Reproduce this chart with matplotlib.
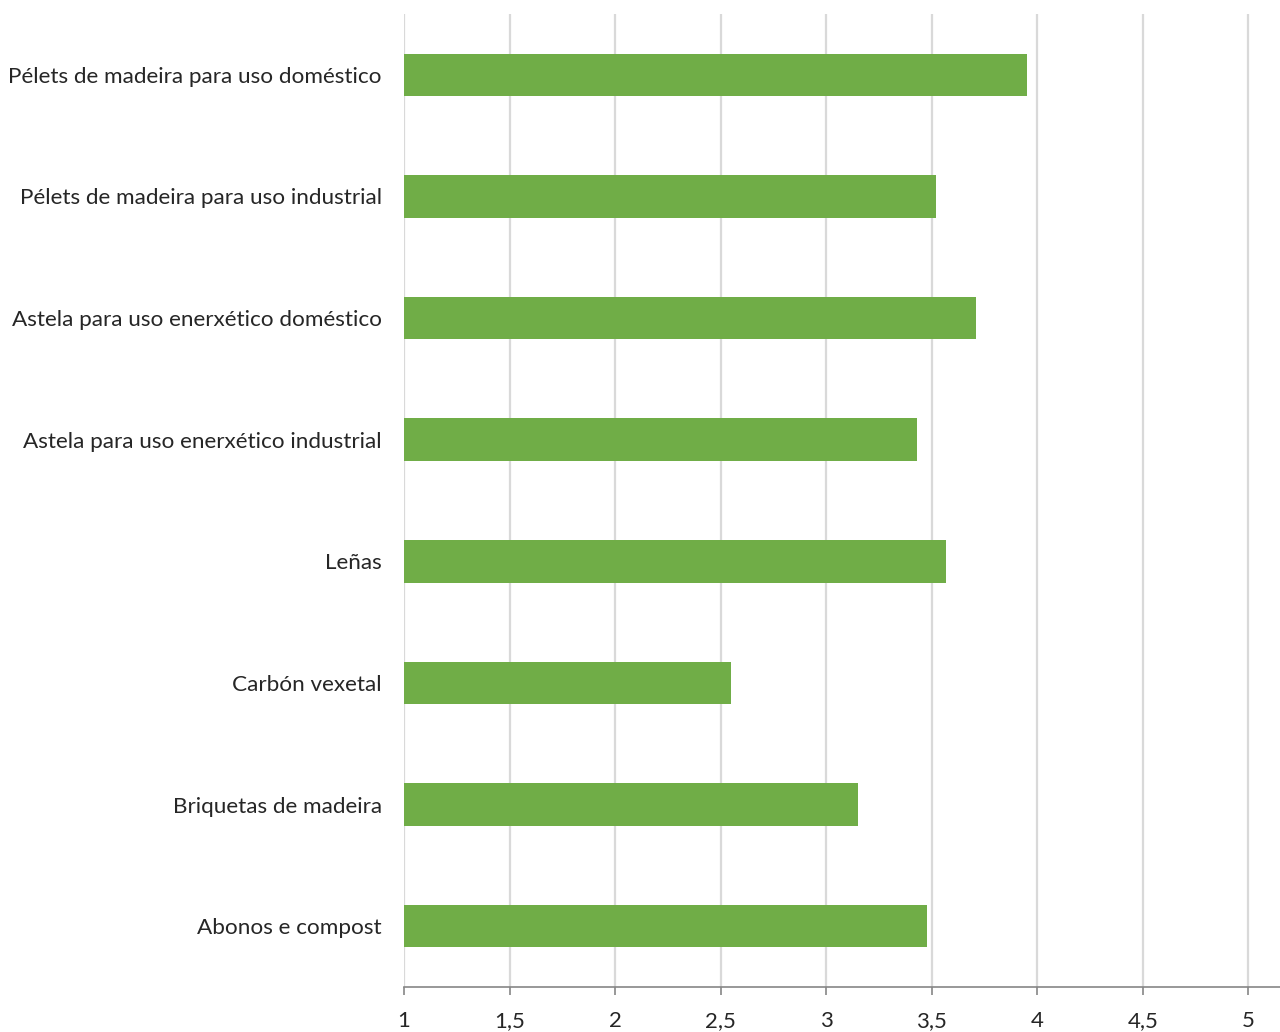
import matplotlib.pyplot as plt
from matplotlib.ticker import FuncFormatter

plt.rcParams['font.family'] = ['Lato', 'DejaVu Sans']

categorias = [
    "Pélets de madeira para uso doméstico",
    "Pélets de madeira para uso industrial",
    "Astela para uso enerxético doméstico",
    "Astela para uso enerxético industrial",
    "Leñas",
    "Carbón vexetal",
    "Briquetas de madeira",
    "Abonos e compost",
]
valores = [3.95, 3.52, 3.71, 3.43, 3.57, 2.55, 3.15, 3.48]
xticks = [1, 1.5, 2, 2.5, 3, 3.5, 4, 4.5, 5]

fig = plt.figure(figsize=(12.8, 10.32), dpi=100)
ax = fig.add_axes([404 / 1280, 45 / 1032, 1 - 404 / 1280, (987 - 14) / 1032])

pos = list(range(len(categorias)))
# barras desde 1 (orixe do eixo)
ax.barh(pos, [v - 1 for v in valores], left=1, height=0.35, color='#70AD47', zorder=3)

ax.set_xlim(1, 5.15)
ax.set_ylim(len(categorias) - 0.5, -0.5)
ax.set_xticks(xticks)
ax.xaxis.set_major_formatter(FuncFormatter(lambda v, p: f"{v:g}".replace('.', ',')))
ax.set_yticks(pos)
ax.set_yticklabels(categorias)

ax.grid(axis='x', color='#D9D9D9', linewidth=1.6, zorder=0)
for s in ['top', 'right', 'left']:
    ax.spines[s].set_visible(False)
ax.spines['bottom'].set_color('#868686')
ax.spines['bottom'].set_linewidth(1.2)
ax.tick_params(axis='x', length=6, width=1.2, color='#868686', labelsize=16,
               labelcolor='#262626', pad=11)
ax.tick_params(axis='y', length=0, labelsize=16.2, labelcolor='#262626', pad=16)

fig.savefig('out.png', dpi=100)
